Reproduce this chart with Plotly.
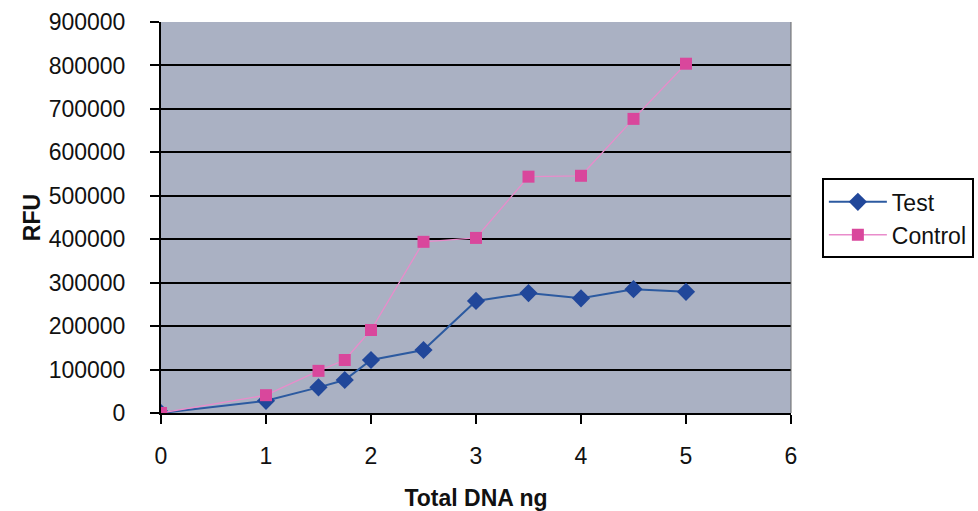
import plotly.graph_objects as go

x_vals = [0, 1, 1.5, 1.75, 2, 2.5, 3, 3.5, 4, 4.5, 5]
test_vals = [0, 28000, 59000, 76000, 122000, 145000, 258000, 276000, 264000, 285000, 279000]
control_vals = [0, 41000, 97000, 122000, 191000, 394000, 403000, 544000, 546000, 677000, 804000]
y_ticks = [0, 100000, 200000, 300000, 400000, 500000, 600000, 700000, 800000, 900000]
x_ticks = [0, 1, 2, 3, 4, 5, 6]

fig = go.Figure()
fig.add_trace(go.Scatter(
    x=x_vals, y=test_vals, name="Test", mode="lines+markers",
    line=dict(color="#2c5aa0", width=2),
    marker=dict(symbol="diamond", size=14, color="#21479a"),
))
fig.add_trace(go.Scatter(
    x=x_vals, y=control_vals, name="Control", mode="lines+markers",
    line=dict(color="#e98ccb", width=1.3),
    marker=dict(symbol="square", size=12, color="#d9479c"),
))

font = "Liberation Sans, Arial, sans-serif"
fig.update_layout(
    width=978, height=511,
    margin=dict(l=161, r=187, t=22, b=98, autoexpand=False),
    paper_bgcolor="white",
    plot_bgcolor="#aab1c3",
    font=dict(family=font, size=22, color="#111"),
    showlegend=True,
    legend=dict(
        x=1.049, y=0.60, xanchor="left", yanchor="top",
        bordercolor="black", borderwidth=2, bgcolor="white",
        font=dict(size=23, family=font, color="#111"),
        itemwidth=58, tracegroupgap=0,
    ),
    xaxis=dict(
        range=[0, 6], tickvals=x_ticks, ticktext=[str(v) for v in x_ticks],
        showgrid=False, zeroline=False, automargin=False,
        showline=True, linecolor="black", linewidth=2,
        ticks="outside", ticklen=9, tickwidth=2, tickcolor="black",
        ticklabelstandoff=12,
        tickfont=dict(size=23, family=font, color="#111"),
        title=dict(text="<b>Total DNA ng</b>", font=dict(size=23, family=font, color="#111"), standoff=22),
    ),
    yaxis=dict(
        range=[0, 900000], tickvals=y_ticks, ticktext=[str(v) for v in y_ticks],
        showgrid=True, gridcolor="black", gridwidth=2,
        zeroline=False, automargin=False,
        showline=True, linecolor="black", linewidth=2,
        ticks="outside", ticklen=9, tickwidth=2, tickcolor="black",
        ticklabelstandoff=20,
        tickfont=dict(size=23, family=font, color="#111"),
        title=dict(text="<b>RFU</b>", font=dict(size=23, family=font, color="#111"), standoff=2),
    ),
)
fig.add_shape(type="line", xref="paper", yref="paper", x0=1, x1=1, y0=0, y1=1,
              line=dict(color="#666", width=1))

fig.write_html("out.html")
